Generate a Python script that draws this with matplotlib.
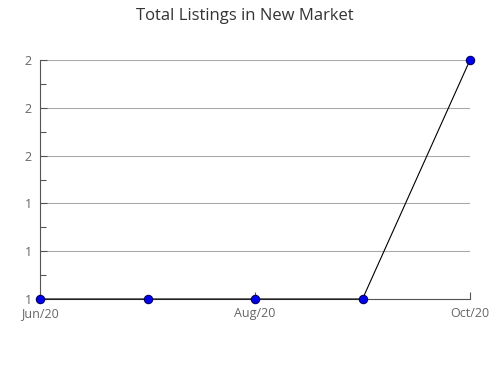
import numpy as np
import matplotlib.pyplot as plt
from matplotlib.ticker import FuncFormatter, MultipleLocator

plt.rcParams['font.family'] = ['Open Sans', 'DejaVu Sans']

months = ['Jun/20', 'Jul/20', 'Aug/20', 'Sep/20', 'Oct/20']
listings = [1, 1, 1, 1, 2]
yticks = [1.0, 1.2, 1.4, 1.6, 1.8, 2.0]

fig = plt.figure(figsize=(4.9, 3.8), dpi=100)
ax = fig.add_axes([40 / 490, 81 / 380, 430 / 490, 239 / 380])

x = np.arange(len(months))
ax.plot(x, listings, color='black', lw=0.8, marker='o', markersize=6,
        markerfacecolor='#0000ee', markeredgecolor='#000066', markeredgewidth=0.8,
        zorder=3, clip_on=False)

ax.set_xlim(0, len(months) - 1)
ax.set_ylim(1, 2)
ax.set_xticks(x[::2])
ax.set_xticklabels(months[::2])
ax.set_yticks(yticks)
ax.yaxis.set_major_formatter(FuncFormatter(lambda v, p: '{:.0f}'.format(v)))
ax.yaxis.set_minor_locator(MultipleLocator(0.1))

ax.grid(axis='y', color='#aaaaaa', lw=0.8)
ax.set_axisbelow(True)
for s in ['top', 'right']:
    ax.spines[s].set_visible(False)
for s in ['left', 'bottom']:
    ax.spines[s].set_color('#555555')
    ax.spines[s].set_linewidth(0.8)

ax.tick_params(axis='both', which='both', direction='in', colors='#555555',
               labelcolor='#666666', labelsize=9, width=0.8)
ax.tick_params(axis='y', which='major', length=5, pad=6)
ax.tick_params(axis='y', which='minor', length=4)
ax.tick_params(axis='x', length=5, pad=6)

fig.suptitle('Total Listings in New Market', x=245 / 490, y=0.98, va='top',
             fontsize=12, color='#333333')

fig.savefig('out.png', dpi=100)
